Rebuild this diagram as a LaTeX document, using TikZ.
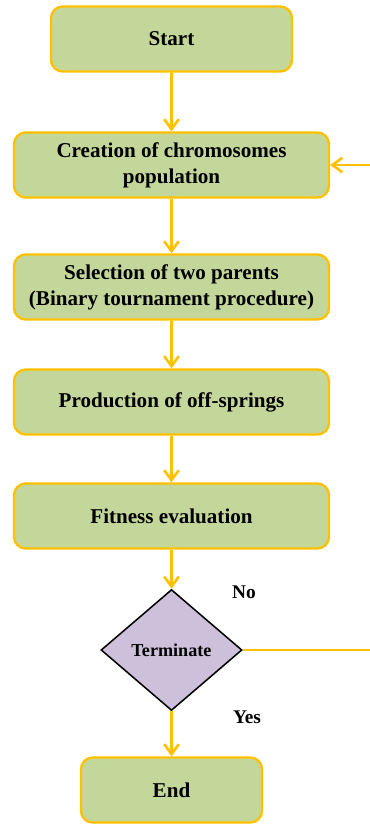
\documentclass[tikz,border=0pt]{standalone}
\usepackage{fontspec}
\setmainfont{Liberation Serif}
\usetikzlibrary{shapes.geometric,arrows.meta}

\begin{document}
\begin{tikzpicture}[x=0.03cm,y=-0.03cm,
    stepbox/.style={draw=amber,fill=leafgreen,line width=2pt,rounded corners=3.5mm,
        minimum height=1.95cm,align=center,font=\fontsize{18pt}{22pt}\selectfont\bfseries},
    decision/.style={diamond,draw=black,fill=lilac,line width=1.3pt,inner sep=0,
        minimum width=4.23cm,minimum height=3.63cm,font=\fontsize{15.5pt}{18pt}\selectfont\bfseries},
    flow/.style={draw=amber,line width=2.2pt,-{Straight Barb[length=3mm,width=4.4mm]}},
    answer/.style={font=\fontsize{16.5pt}{18pt}\selectfont\bfseries}]
    \definecolor{amber}{HTML}{FFC000}
    \definecolor{leafgreen}{HTML}{C4D79B}
    \definecolor{lilac}{HTML}{CCC0DA}
    \pgfmathsetmacro{\midx}{171.5}
    \pgfmathsetmacro{\wideboxwidth}{9.45}
    \useasboundingbox (0,0) rectangle (370,828);
    \node[stepbox,minimum width=7.23cm] (start) at (\midx,39) {Start};
    \node[stepbox,minimum width=\wideboxwidth cm] (creation) at (\midx,165) {Creation of chromosomes\\population};
    \node[stepbox,minimum width=\wideboxwidth cm] (selection) at (\midx,287) {Selection of two parents\\(Binary tournament procedure)};
    \node[stepbox,minimum width=\wideboxwidth cm] (production) at (\midx,402) {Production of off-springs};
    \node[stepbox,minimum width=\wideboxwidth cm] (fitness) at (\midx,516) {Fitness evaluation};
    \node[decision] (terminate) at (\midx,650) {Terminate};
    \node[stepbox,minimum width=5.43cm] (end) at (\midx,790) {End};
    \node[answer] (no) at (244,592) {No};
    \node[answer] (yes) at (247,717) {Yes};
    \coordinate (loopout) at (372,650);
    \coordinate (loopin) at (372,165);
    \draw[flow] (start) -- (creation);
    \draw[flow] (creation) -- (selection);
    \draw[flow] (selection) -- (production);
    \draw[flow] (production) -- (fitness);
    \draw[flow] (fitness) -- (terminate);
    \draw[flow] (terminate) -- (end);
    \draw[flow,-] (terminate) -- (loopout);
    \draw[flow] (loopin) -- (creation);
\end{tikzpicture}
\end{document}
